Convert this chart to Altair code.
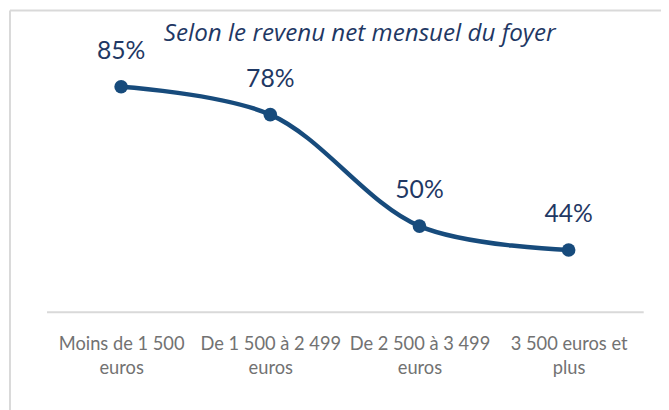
import altair as alt
import pandas as pd

categories = ["Moins de 1 500\neuros", "De 1 500 à 2 499\neuros", "De 2 500 à 3 499\neuros", "3 500 euros et\nplus"]
values = [85, 78, 50, 44]
labels = ["85%", "78%", "50%", "44%"]
title_text = "Selon le revenu net mensuel du foyer"

df = pd.DataFrame({"cat": categories, "val": values, "lab": labels})

NAVY = "#1f3864"
LINE = "#174b7c"
GRID = "#d9d9d9"
FONT = "Lato"

x = alt.X("cat:N", sort=categories, title=None,
          scale=alt.Scale(type="point", padding=0.5),
          axis=alt.Axis(labelAngle=0, ticks=False, domainColor=GRID, domainWidth=2,
                        labelColor="#727272", labelFont=FONT, labelFontSize=18.5,
                        labelPadding=23, labelLineHeight=25, labelBaseline="top",
                        labelExpr="split(datum.label, '\\n')", grid=False))
y = alt.Y("val:Q", title=None, scale=alt.Scale(domain=[28.5, 98.7], nice=False, zero=False),
          axis=None)

base = alt.Chart(df)
line = base.mark_line(interpolate="catmull-rom", color=LINE, strokeWidth=4.5).encode(x=x, y=y)
pts = base.mark_circle(color=LINE, size=190, opacity=1).encode(x=x, y=y)
txt = base.mark_text(color=NAVY, font=FONT, fontSize=25, dy=-36,
                     baseline="middle").encode(x=x, y=y, text="lab:N")

title = alt.Chart(pd.DataFrame({"t": [title_text]})).mark_text(
    color=NAVY, font="Open Sans", fontSize=24.5, fontStyle="italic",
    baseline="alphabetic", align="center"
).encode(x=alt.value(317), y=alt.value(9), text="t:N")

border_top = alt.Chart(pd.DataFrame({"a": [0]})).mark_rule(color=GRID, strokeWidth=2).encode(
    x=alt.value(-37), x2=alt.value(622), y=alt.value(-22))
border_left = alt.Chart(pd.DataFrame({"a": [0]})).mark_rule(color=GRID, strokeWidth=2).encode(
    x=alt.value(-37), y=alt.value(-22), y2=alt.value(400))

chart = alt.layer(border_top, border_left, line, pts, txt, title).properties(
    width=604, height=283,
    padding={"left": 39, "top": 22, "right": 18, "bottom": 97},
    autosize=alt.AutoSizeParams(type="none"),
).configure_view(stroke=None)

chart.save("out.html", embed_options={"renderer": "svg", "actions": False})
